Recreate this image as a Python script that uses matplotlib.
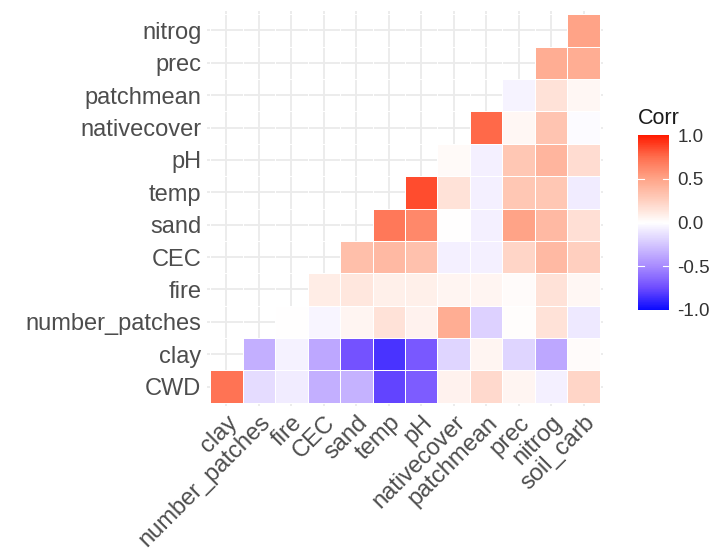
import numpy as np
import matplotlib
matplotlib.use("Agg")
import matplotlib.pyplot as plt
from matplotlib.colors import LinearSegmentedColormap, Normalize
from matplotlib.colorbar import ColorbarBase

plt.rcParams['font.family'] = ['Liberation Sans', 'DejaVu Sans']

# column (x) and row (y) variables of the lower triangle
x_labels = ["clay", "number_patches", "fire", "CEC", "sand", "temp", "pH",
            "nativecover", "patchmean", "prec", "nitrog", "soil_carb"]
y_labels = ["CWD", "clay", "number_patches", "fire", "CEC", "sand", "temp",
            "pH", "nativecover", "patchmean", "prec", "nitrog"]

# correlations per row, starting at the first column that is shown
r_CWD = [0.72, -0.15, -0.08, -0.35, -0.33, -0.78, -0.68, 0.07, 0.20, 0.05, -0.07, 0.22]
r_clay = [-0.35, -0.06, -0.38, -0.72, -0.84, -0.70, -0.18, 0.05, -0.18, -0.38, 0.02]
r_number_patches = [0.00, -0.04, 0.05, 0.15, 0.07, 0.45, -0.20, 0.01, 0.15, -0.10]
r_fire = [0.10, 0.13, 0.08, 0.08, 0.05, 0.05, 0.02, 0.15, 0.04]
r_CEC = [0.35, 0.38, 0.33, -0.07, -0.07, 0.22, 0.38, 0.25]
r_sand = [0.70, 0.63, 0.00, -0.07, 0.50, 0.38, 0.17]
r_temp = [0.85, 0.15, -0.07, 0.30, 0.30, -0.08]
r_pH = [0.03, -0.07, 0.30, 0.40, 0.18]
r_nativecover = [0.76, 0.04, 0.32, -0.02]
r_patchmean = [-0.05, 0.15, 0.04]
r_prec = [0.45, 0.45]
r_nitrog = [0.50]

rows = [r_CWD, r_clay, r_number_patches, r_fire, r_CEC, r_sand, r_temp,
        r_pH, r_nativecover, r_patchmean, r_prec, r_nitrog]

n = len(x_labels)
corr = np.full((n, n), np.nan)
for i, vals in enumerate(rows):
    corr[i, i:i + len(vals)] = vals
corr = np.ma.masked_invalid(corr)

# blue - white - red gradient, interpolated roughly as in Lab space
cmap = LinearSegmentedColormap.from_list("corr", [
    (0.0, "#0A0AFF"), (0.125, "#6E4CFF"), (0.25, "#A88BFF"), (0.375, "#D4C6FF"),
    (0.5, "#FFFFFF"),
    (0.625, "#FFD0C0"), (0.75, "#FFA488"), (0.875, "#FF6E4E"), (1.0, "#FF1A00")])
norm = Normalize(-1, 1)

fig = plt.figure(figsize=(7.2, 5.6), dpi=100)
ax = fig.add_axes([207 / 720, 1 - 406 / 560, 396 / 720, 395 / 560])

xe = np.arange(n + 1) - 0.5
ye = np.arange(n + 1) - 0.5
ax.pcolormesh(xe, ye, corr, cmap=cmap, norm=norm, edgecolors="white",
              linewidth=0.6, zorder=2)

ax.set_xlim(-0.6, n - 0.4)
ax.set_ylim(-0.6, n - 0.4)
ax.set_xticks(range(n))
ax.set_yticks(range(n))
ax.set_xticklabels(x_labels, rotation=45, ha="right", va="top",
                   rotation_mode="anchor", fontsize=17, color="#4D4D4D")
ax.set_yticklabels(y_labels, fontsize=17, color="#4D4D4D")
ax.tick_params(length=0, pad=4)
ax.grid(True, color="#EBEBEB", linewidth=1.3, zorder=0)
ax.set_axisbelow(True)
for s in ax.spines.values():
    s.set_visible(False)

# legend bar
cax = fig.add_axes([638 / 720, 1 - 310 / 560, 31 / 720, 175 / 560])
cb = ColorbarBase(cax, cmap=cmap, norm=norm, ticks=[-1, -0.5, 0, 0.5, 1])
cb.outline.set_visible(False)
cb.ax.set_yticklabels(["-1.0", "-0.5", "0.0", "0.5", "1.0"], fontsize=13.5,
                      color="#333333")
cb.ax.tick_params(length=0, pad=6)
for v in [-0.5, 0, 0.5]:
    cax.plot([0, 0.2], [v, v], color="white", lw=0.8)
    cax.plot([0.8, 1], [v, v], color="white", lw=0.8)
fig.text(638 / 720, 1 - 118 / 560, "Corr", fontsize=15.5, color="#1A1A1A",
         va="center", ha="left")

fig.savefig("out.png", dpi=100)
